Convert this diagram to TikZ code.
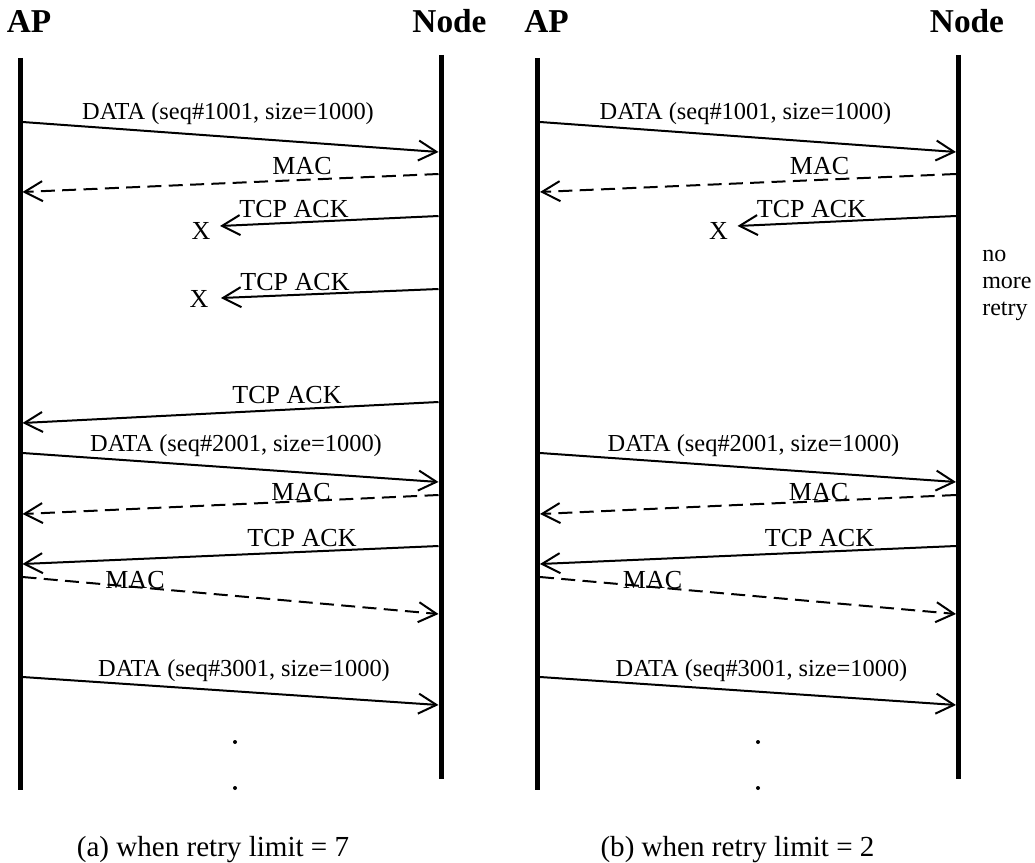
\documentclass[tikz,border=0pt]{standalone}
\usepackage{fontspec}
\setmainfont{Liberation Serif}
\usetikzlibrary{arrows.meta}
\begin{document}
\begin{tikzpicture}[x=0.75pt,y=-0.75pt,
  life/.style={line width=3.75pt},
  msg/.style={line width=1.5pt,-{Straight Barb[length=13.5pt,width=15pt,line width=1.5pt]}},
  ctl/.style={msg,dash pattern=on 10.5pt off 5.5pt},
  lbl/.style={font=\fontsize{19.5}{23}\selectfont, anchor=base, inner sep=0pt},
  dlbl/.style={lbl, font=\fontsize{18.3}{22}\selectfont},
  hdr/.style={font=\fontsize{25}{29}\selectfont\bfseries, anchor=base, inner sep=0pt},
  captxt/.style={font=\fontsize{21.8}{26}\selectfont, anchor=base, inner sep=0pt},
  note/.style={font=\fontsize{18}{20.25}\selectfont, anchor=base west, inner sep=0pt, align=left},
  dotm/.style={circle, fill, inner sep=0pt, minimum size=3pt}]
\useasboundingbox (0,0) rectangle (1035,863);

\foreach \p/\dx/\dotx/\capx/\captext in {a/0/235/213/{(a) when retry limit = 7},b/517.5/240.5/220/{(b) when retry limit = 2}}{
\begin{scope}[shift={(\dx,0)}]
  % lifelines
  \coordinate (\p-apT) at (20,58);   \coordinate (\p-apB) at (20,790);
  \coordinate (\p-ndT) at (441,55);  \coordinate (\p-ndB) at (441,779);
  \draw[life] (\p-apT) -- (\p-apB);
  \draw[life] (\p-ndT) -- (\p-ndB);
  \node[hdr] (\p-AP) at (29,33) {AP};
  \node[hdr] (\p-Node) at (449.5,33) {Node};
  % DATA 1001
  \coordinate (\p-m1s) at (22.5,122); \coordinate (\p-m1e) at (438.5,152);
  \draw[msg] (\p-m1s) -- (\p-m1e);
  \node[dlbl] (\p-l1) at (228,120) {DATA (seq\#1001, size=1000)};
  % MAC
  \coordinate (\p-m2s) at (438.5,174); \coordinate (\p-m2e) at (22.5,192);
  \draw[ctl] (\p-m2s) -- (\p-m2e);
  \node[lbl] (\p-l2) at (302,175) {MAC};
  % TCP ACK lost
  \coordinate (\p-m3s) at (438.5,216); \coordinate (\p-m3e) at (220,226);
  \draw[msg] (\p-m3s) -- (\p-m3e);
  \node[lbl] (\p-l3) at (294,217) {TCP ACK};
  \node[lbl] (\p-x3) at (201,239) {X};
  % DATA 2001
  \coordinate (\p-m6s) at (22.5,453); \coordinate (\p-m6e) at (438.5,482);
  \draw[msg] (\p-m6s) -- (\p-m6e);
  \node[dlbl] (\p-l6) at (236,451) {DATA (seq\#2001, size=1000)};
  % MAC
  \coordinate (\p-m7s) at (438.5,495); \coordinate (\p-m7e) at (22.5,514);
  \draw[ctl] (\p-m7s) -- (\p-m7e);
  \node[lbl] (\p-l7) at (301,500) {MAC};
  % TCP ACK
  \coordinate (\p-m8s) at (438.5,546); \coordinate (\p-m8e) at (22.5,564);
  \draw[msg] (\p-m8s) -- (\p-m8e);
  \node[lbl] (\p-l8) at (302,546) {TCP ACK};
  % MAC
  \coordinate (\p-m9s) at (22.5,577); \coordinate (\p-m9e) at (438.5,614);
  \draw[ctl] (\p-m9s) -- (\p-m9e);
  \node[lbl] (\p-l9) at (135,588) {MAC};
  % DATA 3001
  \coordinate (\p-m10s) at (22.5,677); \coordinate (\p-m10e) at (438.5,705);
  \draw[msg] (\p-m10s) -- (\p-m10e);
  \node[dlbl] (\p-l10) at (244,676) {DATA (seq\#3001, size=1000)};
  % dots
  \node[dotm] (\p-dot1) at (\dotx,742) {};
  \node[dotm] (\p-dot2) at (\dotx,788) {};
  % caption
  \node[captxt] (\p-cap) at (\capx,856) {\captext};
\end{scope}
}

% panel (a) only
\coordinate (a-m4s) at (438.5,289); \coordinate (a-m4e) at (221,298);
\draw[msg] (a-m4s) -- (a-m4e);
\node[lbl] (a-l4) at (295,290) {TCP ACK};
\node[lbl] (a-x4) at (199,307) {X};
\coordinate (a-m5s) at (438.5,402); \coordinate (a-m5e) at (22.5,423);
\draw[msg] (a-m5s) -- (a-m5e);
\node[lbl] (a-l5) at (287,403) {TCP ACK};

% panel (b) only
\node[note] (b-note) at (982,315) {no\\more\\retry};
\end{tikzpicture}
\end{document}
